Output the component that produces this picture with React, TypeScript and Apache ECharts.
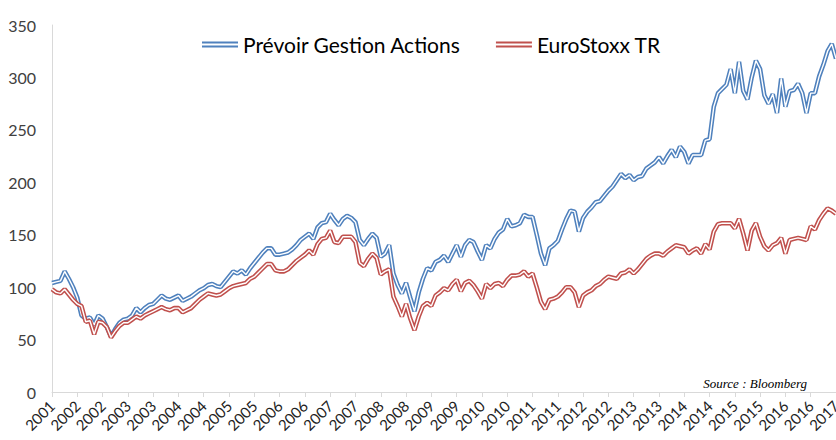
import React, { useEffect, useRef } from "react";
import * as echarts from "echarts";

const startYear = 2001;
const startMonth = 8;

const prevoir = [
  104, 105, 106, 115, 108, 100, 90, 73, 70, 71,
  64, 73, 70, 62, 53, 60, 66, 69, 70, 73,
  80, 76, 80, 83, 84, 88, 92, 89, 88, 90,
  92, 87, 89, 91, 94, 97, 99, 102, 103, 101,
  100, 105, 110, 115, 113, 116, 112, 118, 123, 128,
  133, 137, 137, 131, 131, 132, 133, 136, 140, 145,
  148, 151, 146, 157, 161, 162, 170, 164, 159, 165,
  168, 166, 162, 145, 140, 146, 151, 147, 129, 132,
  140, 113, 102, 94, 104, 90, 77, 95, 108, 118,
  116, 124, 126, 130, 124, 132, 140, 129, 140, 145,
  143, 134, 126, 140, 137, 146, 152, 155, 165, 158,
  159, 161, 169, 167, 167, 150, 132, 121, 137, 140,
  144, 155, 165, 173, 172, 153, 166, 172, 176, 181,
  182, 187, 192, 196, 202, 208, 204, 207, 202, 205,
  206, 213, 216, 219, 224, 218, 225, 231, 224, 234,
  229, 218, 226, 226, 226, 240, 241, 272, 285, 289,
  293, 308, 285, 315, 287, 279, 300, 316, 308, 283,
  275, 284, 266, 299, 272, 287, 288, 294, 285, 266,
  285, 285, 301, 312, 325, 332, 318,
];

const euroStoxx = [
  98, 95, 94, 98, 93, 88, 84, 82, 67, 68,
  55, 67, 66, 62, 52, 58, 63, 66, 66, 69,
  72, 70, 73, 75, 77, 79, 81, 79, 78, 80,
  80, 76, 78, 80, 84, 88, 91, 94, 93, 92,
  93, 96, 99, 101, 102, 103, 104, 108, 110, 114,
  118, 122, 122, 116, 115, 115, 117, 121, 125, 128,
  131, 135, 131, 141, 146, 147, 154, 143, 142, 148,
  148, 148, 143, 123, 120, 127, 132, 128, 112, 115,
  117, 91, 82, 72, 84, 70, 59, 72, 82, 85,
  82, 92, 95, 99, 97, 103, 107, 96, 104, 106,
  102, 96, 89, 103, 99, 103, 104, 101, 107, 111,
  111, 112, 115, 110, 113, 100, 86, 79, 88, 89,
  91, 95, 100, 100, 95, 81, 92, 95, 97, 101,
  103, 107, 110, 109, 108, 113, 114, 117, 113, 117,
  122, 127, 130, 132, 132, 130, 134, 137, 140, 139,
  138, 132, 135, 137, 132, 141, 136, 153, 160, 161,
  161, 161, 156, 165, 151, 135, 154, 161, 148, 139,
  135, 140, 142, 147, 132, 145, 146, 147, 146, 145,
  158, 155, 164, 170, 175, 173, 170,
];

const categories = prevoir.map((_, i) => {
  const m = startMonth - 1 + i;
  return `${startYear + Math.floor(m / 12)}-${String((m % 12) + 1).padStart(2, "0")}`;
});

const seriesNames = ["Prévoir Gestion Actions", "EuroStoxx TR"];
const colors = ["#4F81BD", "#C0504D"];
const yTicks = [0, 50, 100, 150, 200, 250, 300, 350];

export default function App() {
  const ref = useRef<HTMLDivElement>(null);
  useEffect(() => {
    if (!ref.current) return;
    const chart = echarts.init(ref.current, null, { renderer: "svg" });
    const datasets = [prevoir, euroStoxx];
    const series: any[] = [];
    datasets.forEach((d, k) => {
      series.push({
        name: seriesNames[k],
        type: "line",
        data: d,
        symbol: "none",
        color: colors[k],
        lineStyle: { color: colors[k], width: 4.5 },
        z: 2 + k * 2,
      });
      series.push({
        name: "_inner" + k,
        type: "line",
        data: d,
        symbol: "none",
        silent: true,
        color: "#ffffff",
        lineStyle: { color: "#ffffff", width: 1.4 },
        z: 3 + k * 2,
      });
    });
    chart.setOption({
      animation: false,
      grid: {
        left: 52,
        right: 0,
        top: 25,
        bottom: 48,
        containLabel: false,
        outerBoundsMode: "none",
      },
      legend: {
        data: seriesNames,
        left: 197,
        top: 29,
        itemWidth: 36,
        itemHeight: 6,
        itemGap: 35,
        icon: "path://M0,0H36V2H0Z M0,4H36V6H0Z",
        textStyle: { fontFamily: "Lato", fontSize: 21, color: "#000000" },
      },
      xAxis: {
        type: "category",
        data: categories,
        boundaryGap: false,
        axisLine: { lineStyle: { color: "#D9D9D9", width: 1 } },
        axisTick: { interval: 5, length: 5, lineStyle: { color: "#D9D9D9" } },
        axisLabel: {
          interval: 5,
          rotate: 45,
          margin: 11,
          fontFamily: "Lato",
          fontSize: 15,
          color: "#222222",
          formatter: (v: string) => v.slice(0, 4),
        },
        splitLine: { show: false },
      },
      yAxis: {
        type: "value",
        min: yTicks[0],
        max: yTicks[yTicks.length - 1],
        interval: 50,
        axisLine: { show: true, lineStyle: { color: "#D9D9D9", width: 1 } },
        axisTick: { show: false },
        splitLine: { show: false },
        axisLabel: {
          margin: 16,
          fontFamily: "Lato",
          fontSize: 16,
          color: "#404040",
        },
      },
      graphic: [
        {
          type: "text",
          right: 29,
          top: 377,
          style: {
            text: "Source : Bloomberg",
            font: "italic 13px 'Liberation Serif'",
            fill: "#000000",
          },
        },
      ],
      series,
    });
    return () => chart.dispose();
  }, []);
  return (
    <div
      ref={ref}
      style={{ position: "fixed", left: 0, top: 0, width: 836, height: 440, background: "#ffffff" }}
    />
  );
}
